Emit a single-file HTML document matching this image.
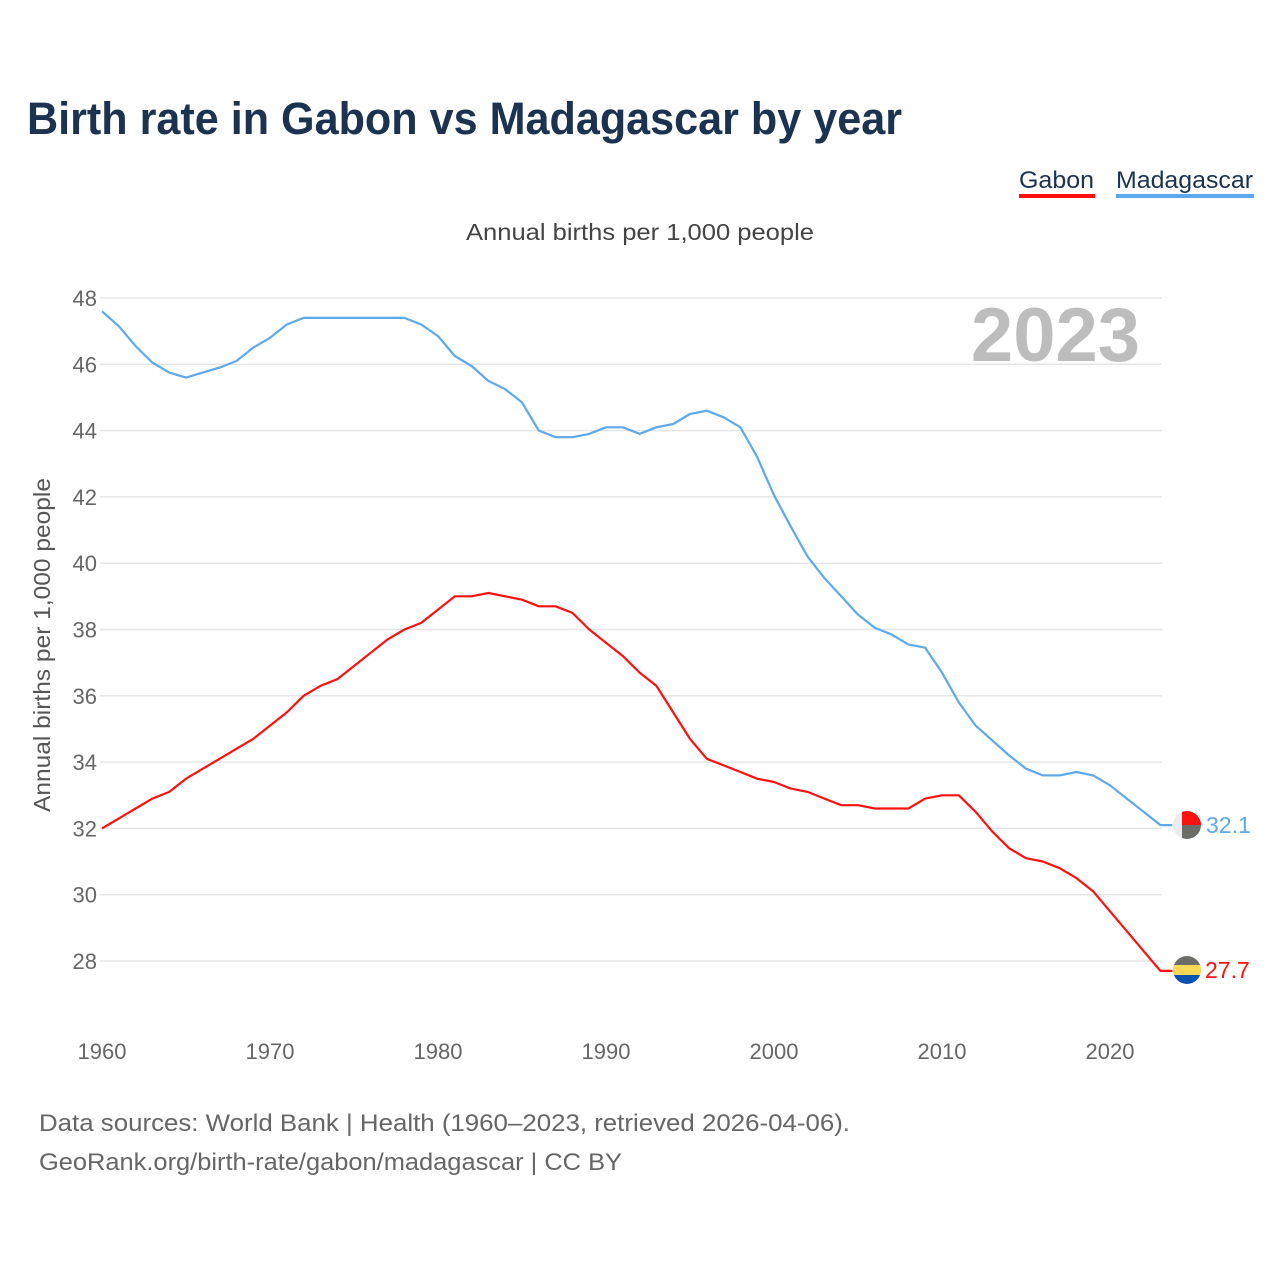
<!DOCTYPE html>
<html><head><meta charset="utf-8"><style>
body{margin:0;background:#fff;}
svg{display:block;font-family:"Liberation Sans",sans-serif;}
</style></head><body>
<svg id="chart" width="1280" height="1280" viewBox="0 0 1280 1280">
<text x="27" y="134" font-size="45" font-weight="bold" fill="#1b3350" textLength="875" lengthAdjust="spacingAndGlyphs">Birth rate in Gabon vs Madagascar by year</text>
<g>
<text x="1019" y="188" font-size="24" fill="#1b3350" textLength="75" lengthAdjust="spacingAndGlyphs">Gabon</text>
<rect x="1019" y="194" width="76" height="4" fill="#ff1010"/>
<text x="1116" y="188" font-size="24" fill="#1b3350" textLength="137" lengthAdjust="spacingAndGlyphs">Madagascar</text>
<rect x="1116" y="194" width="138" height="4" fill="#5ea8ec"/>
</g>
<text x="466" y="240" font-size="23" fill="#444" textLength="348" lengthAdjust="spacingAndGlyphs">Annual births per 1,000 people</text>
<text x="1140" y="361" font-size="76" font-weight="bold" fill="#bdbdbd" text-anchor="end">2023</text>
<text transform="translate(50,645) rotate(-90)" font-size="23" fill="#555" text-anchor="middle" textLength="334" lengthAdjust="spacingAndGlyphs">Annual births per 1,000 people</text>
<g id="grid"></g>
<g id="yticks"></g>
<g id="xticks"></g>
<g id="series"></g>
<g>
<clipPath id="c1"><circle cx="1187" cy="825" r="14"/></clipPath>
<g clip-path="url(#c1)"><rect x="1173" y="811" width="28" height="28" fill="#ececec"/><rect x="1182" y="811" width="19" height="14" fill="#ff1010"/><rect x="1182" y="825" width="19" height="14" fill="#6b6e68"/></g>
</g>
<text x="1206" y="833" font-size="23" fill="#5ea8ec">32.1</text>
<g>
<clipPath id="c2"><circle cx="1187" cy="970" r="14"/></clipPath>
<g clip-path="url(#c2)"><rect x="1173" y="956" width="28" height="10" fill="#6b6e68"/><rect x="1173" y="965" width="28" height="10" fill="#fcd856"/><rect x="1173" y="975" width="28" height="10" fill="#0a52b0"/></g>
</g>
<text x="1205" y="978" font-size="23" fill="#ff1010">27.7</text>
<text x="39" y="1131" font-size="24" fill="#666" textLength="811" lengthAdjust="spacingAndGlyphs">Data sources: World Bank | Health (1960–2023, retrieved 2026-04-06).</text>
<text x="39" y="1170" font-size="24" fill="#666" textLength="583" lengthAdjust="spacingAndGlyphs">GeoRank.org/birth-rate/gabon/madagascar | CC BY</text>
</svg>
<script>
const years = [];
for (let y = 1960; y <= 2023; y++) years.push(y);
const madagascar = [47.6,47.15,46.55,46.05,45.75,45.6,45.75,45.9,46.1,46.5,46.8,47.2,47.4,47.4,47.4,47.4,47.4,47.4,47.4,47.2,46.85,46.25,45.95,45.5,45.25,44.85,44.0,43.8,43.8,43.9,44.1,44.1,43.9,44.1,44.2,44.5,44.6,44.4,44.1,43.2,42.05,41.1,40.2,39.55,39.0,38.45,38.05,37.85,37.55,37.45,36.7,35.8,35.1,34.65,34.2,33.8,33.6,33.6,33.7,33.6,33.3,32.9,32.5,32.1];
const gabon = [32.0,32.3,32.6,32.9,33.1,33.5,33.8,34.1,34.4,34.7,35.1,35.5,36.0,36.3,36.5,36.9,37.3,37.7,38.0,38.2,38.6,39.0,39.0,39.1,39.0,38.9,38.7,38.7,38.5,38.0,37.6,37.2,36.7,36.3,35.5,34.7,34.1,33.9,33.7,33.5,33.4,33.2,33.1,32.9,32.7,32.7,32.6,32.6,32.6,32.9,33.0,33.0,32.5,31.9,31.4,31.1,31.0,30.8,30.5,30.1,29.5,28.9,28.3,27.7];
const yTicks = [28,30,32,34,36,38,40,42,44,46,48];
const xTicks = [1960,1970,1980,1990,2000,2010,2020];

const NS = "http://www.w3.org/2000/svg";
const xScale = v => 102 + (v - 1960) * 16.8;
const yScale = v => 298 + (48 - v) * 33.15;
function mk(tag, attrs, parent) {
  const e = document.createElementNS(NS, tag);
  for (const k in attrs) e.setAttribute(k, attrs[k]);
  parent.appendChild(e);
  return e;
}
const grid = document.getElementById('grid');
const yt = document.getElementById('yticks');
yTicks.forEach(t => {
  const l = mk('line', {x1: 100, x2: 1162, y1: yScale(t), y2: yScale(t), stroke: '#e6e6e6', 'stroke-width': 1.5}, grid);
  
  
  const tx = mk('text', {x: 97, y: yScale(t) + 8, 'font-size': 22, fill: '#666', 'text-anchor': 'end'}, yt);
  tx.textContent = t;
  
  
});
const xt = document.getElementById('xticks');
xTicks.forEach(t => {
  const tx = mk('text', {x: xScale(t), y: 1059, 'font-size': 22, fill: '#666', 'text-anchor': 'middle'}, xt);
  tx.textContent = t;
  
  
});
const sg = document.getElementById('series');
function line(vals, color, name) {
  const d = vals.map((v, i) => (i ? 'L' : 'M') + xScale(years[i]).toFixed(1) + ',' + yScale(v).toFixed(1)).join('');
  const p = mk('path', {d: d + 'L' + (xScale(2023) + 12) + ',' + yScale(vals[vals.length - 1]).toFixed(1), fill: 'none', stroke: color, 'stroke-width': 2.2, 'stroke-linejoin': 'round'}, sg);
  
  
}
line(madagascar, '#5ea8ec', 'line-madagascar');
line(gabon, '#ff1010', 'line-gabon');
</script>
</body></html>
